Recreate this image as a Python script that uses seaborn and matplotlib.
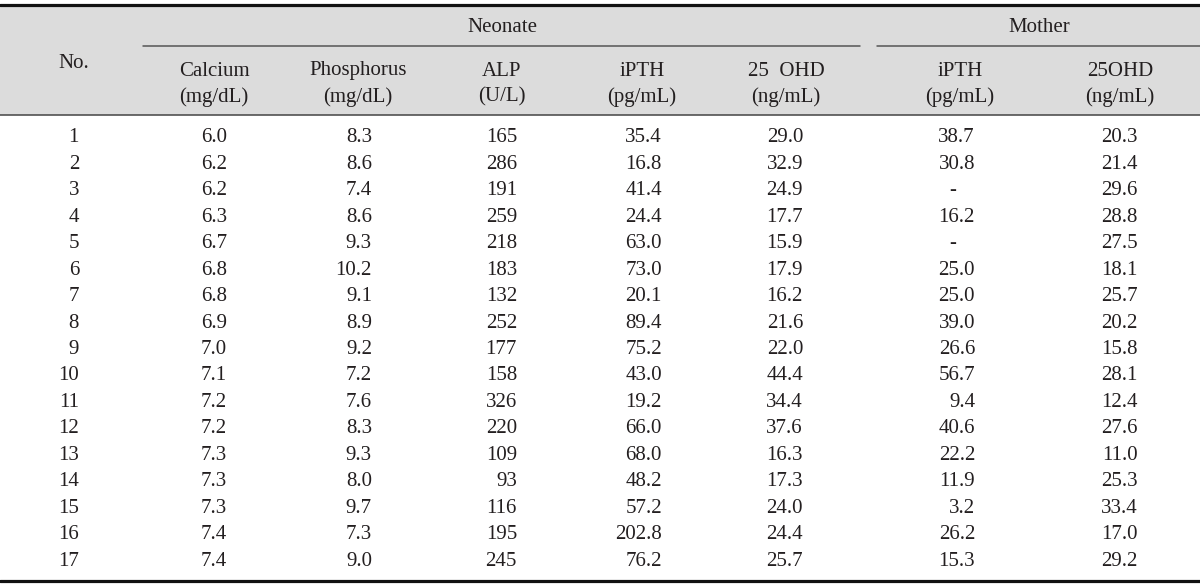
import matplotlib
matplotlib.use("Agg")
import matplotlib.pyplot as plt
import seaborn as sns

# DANE TABELI
numery = list(range(1, 18))
wapn = ["6.0", "6.2", "6.2", "6.3", "6.7", "6.8", "6.8", "6.9", "7.0", "7.1", "7.2", "7.2", "7.3", "7.3", "7.3", "7.4", "7.4"]
fosfor = ["8.3", "8.6", "7.4", "8.6", "9.3", "10.2", "9.1", "8.9", "9.2", "7.2", "7.6", "8.3", "9.3", "8.0", "9.7", "7.3", "9.0"]
alp = ["165", "286", "191", "259", "218", "183", "132", "252", "177", "158", "326", "220", "109", "93", "116", "195", "245"]
ipth_noworodek = ["35.4", "16.8", "41.4", "24.4", "63.0", "73.0", "20.1", "89.4", "75.2", "43.0", "19.2", "66.0", "68.0", "48.2", "57.2", "202.8", "76.2"]
ohd_noworodek = ["29.0", "32.9", "24.9", "17.7", "15.9", "17.9", "16.2", "21.6", "22.0", "44.4", "34.4", "37.6", "16.3", "17.3", "24.0", "24.4", "25.7"]
ipth_matka = ["38.7", "30.8", "-", "16.2", "-", "25.0", "25.0", "39.0", "26.6", "56.7", "9.4", "40.6", "22.2", "11.9", "3.2", "26.2", "15.3"]
ohd_matka = ["20.3", "21.4", "29.6", "28.8", "27.5", "18.1", "25.7", "20.2", "15.8", "28.1", "12.4", "27.6", "11.0", "25.3", "33.4", "17.0", "29.2"]

naglowki = [("Calcium", "(mg/dL)"), ("Phosphorus", "(mg/dL)"), ("ALP", "(U/L)"),
            ("iPTH", "(pg/mL)"), ("25  OHD", "(ng/mL)"), ("iPTH", "(pg/mL)"), ("25OHD", "(ng/mL)")]
grupy = ["Neonate", "Mother"]

kolumny = [numery, wapn, fosfor, alp, ipth_noworodek, ohd_noworodek, ipth_matka, ohd_matka]

# UKLAD (piksele)
prawe_krawedzie = [79, 227, 372, 517, 662, 803, 975, 1138]
srodki_naglowkow = [214, 358, 502, 642, 786, 960, 1120]
srodki_grup = [502, 1039]
zakresy_grup = [(143, 860), (877, 1200)]

sns.set_style("white")
plt.rcParams['font.family'] = ['Liberation Serif', 'DejaVu Serif']
kolor = '#231f20'
rozmiar = 15

fig = plt.figure(figsize=(12, 5.84), dpi=100)
ax = fig.add_axes([0, 0, 1, 1])
ax.set_xlim(0, 1200)
ax.set_ylim(584, 0)
ax.axis('off')

# tlo naglowka
ax.axhspan(5, 114, color='#dcdcdc', zorder=0)
ax.axhline(4.5, color='#111111', lw=2.3)
ax.axhline(114.5, color='#444444', lw=1.1)
ax.axhline(580.5, color='#111111', lw=2.3)
for (x0, x1) in zakresy_grup:
    ax.plot([x0, x1], [46, 46], color='#555555', lw=1.1)

# naglowki
for g, xc in zip(grupy, srodki_grup):
    ax.text(xc, 28, g, ha='center', va='center', fontsize=rozmiar, color=kolor)
ax.text(74, 64, "No.", ha='center', va='center', fontsize=rozmiar, color=kolor)
for (l1, l2), xc in zip(naglowki, srodki_naglowkow):
    ax.text(xc, 71, l1, ha='center', va='center', fontsize=rozmiar, color=kolor)
    ax.text(xc, 97, l2, ha='center', va='center', fontsize=rozmiar, color=kolor)

# wiersze danych
y0, krok = 138, 26.44
for j, (kol, xr) in enumerate(zip(kolumny, prawe_krawedzie)):
    for i, v in enumerate(kol):
        y = y0 + i * krok
        if v == "-":
            ax.text(xr - 22, y, v, ha='center', va='center', fontsize=rozmiar, color=kolor)
        else:
            ax.text(xr, y, str(v), ha='right', va='center', fontsize=rozmiar, color=kolor)

fig.savefig("out.png", dpi=100)
